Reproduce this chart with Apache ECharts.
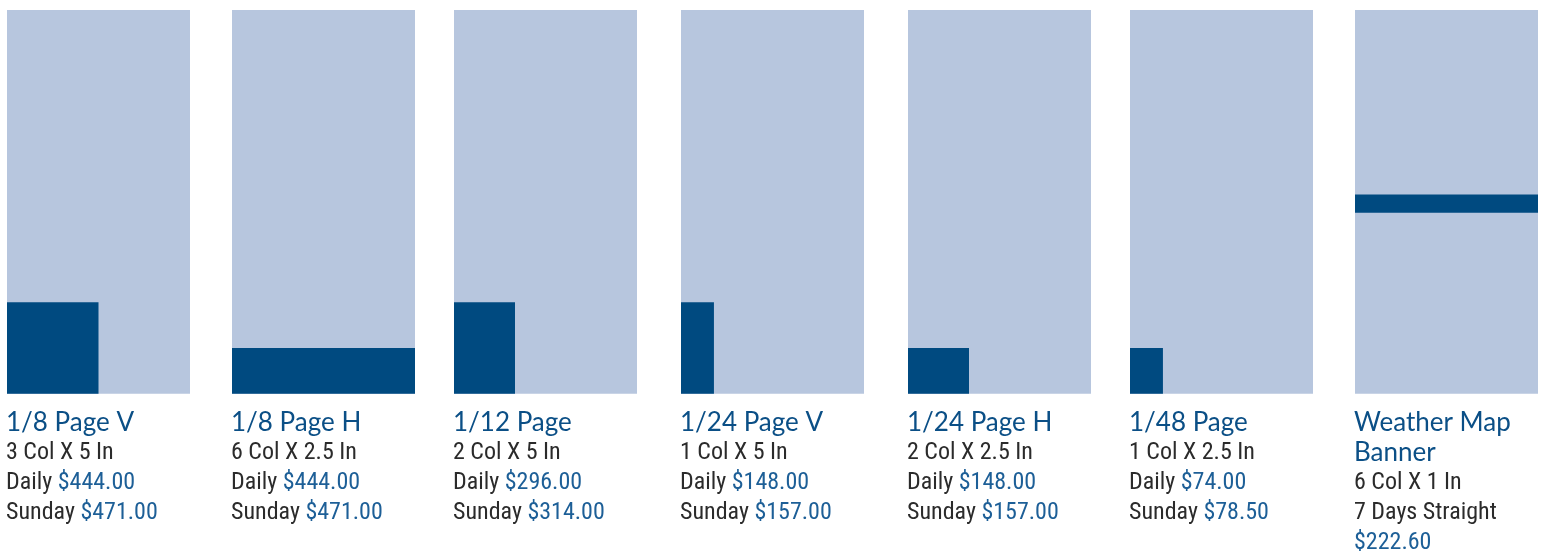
<!DOCTYPE html>
<html>
<head>
<meta charset="utf-8">
<script src="https://cdn.jsdelivr.net/npm/echarts@6/dist/echarts.min.js"></script>
<style>
  html, body { margin: 0; padding: 0; background: #fff; }
  #chart { width: 1546px; height: 554px; }
</style>
</head>
<body>
<div id="chart"></div>
<script>
// ad sizes on a 6 column x 21 inch page
var adNames = ['1/8 Page V', '1/8 Page H', '1/12 Page', '1/24 Page V', '1/24 Page H', '1/48 Page', 'Weather Map\nBanner'];
var adCols = [3, 6, 2, 1, 2, 1, 6];
// drawn width in column units (a single column is a bit wider than 1/6 of the page)
var adWidth = [3, 6, 2, 1.08, 2, 1.08, 6];
var adInches = [5, 2.5, 5, 5, 2.5, 2.5, 1];
var adBottom = [0, 0, 0, 0, 0, 0, 9.9];
var dailyPrice = ['$444.00', '$444.00', '$296.00', '$148.00', '$148.00', '$74.00', null];
var sundayPrice = ['$471.00', '$471.00', '$314.00', '$157.00', '$157.00', '$78.50', null];
var weekPrice = [null, null, null, null, null, null, '$222.60'];
var pageCols = 6;
var pageInches = 21;

var lefts = [7, 232, 454, 681, 908, 1130, 1355];
var panelW = 183;
var LIGHT = '#b7c6de';
var DARK = '#004a80';

var chart = echarts.init(document.getElementById('chart'));

var grids = [], xAxes = [], yAxes = [], series = [], titles = [];

function renderRect(params, api) {
  var p0 = api.coord([api.value(0), api.value(2)]);
  var p1 = api.coord([api.value(1), api.value(3)]);
  return {
    type: 'rect',
    shape: { x: p0[0], y: p1[1], width: p1[0] - p0[0], height: p0[1] - p1[1] },
    style: { fill: api.value(4) === 1 ? DARK : LIGHT }
  };
}

adNames.forEach(function (name, i) {
  grids.push({ left: lefts[i], top: 10, width: panelW, height: 383.7 });
  xAxes.push({ gridIndex: i, type: 'value', min: 0, max: pageCols, show: false });
  yAxes.push({ gridIndex: i, type: 'value', min: 0, max: pageInches, show: false });
  series.push({
    type: 'custom',
    xAxisIndex: i,
    yAxisIndex: i,
    silent: true,
    renderItem: renderRect,
    data: [
      [0, pageCols, 0, pageInches, 0],
      [0, adWidth[i], adBottom[i], adBottom[i] + adInches[i], 1]
    ]
  });

  var lines = name.split('\n').map(function (s) { return '{h|' + s + '}'; });
  lines.push('{g|' + adCols[i] + ' Col X ' + adInches[i] + ' In}');
  if (dailyPrice[i]) {
    lines.push('{g|Daily }{p|' + dailyPrice[i] + '}');
    lines.push('{g|Sunday }{p|' + sundayPrice[i] + '}');
  } else {
    lines.push('{g|7 Days Straight}');
    lines.push('{p|' + weekPrice[i] + '}');
  }
  titles.push({
    left: lefts[i] - 1,
    top: 408,
    padding: 0,
    text: lines.join('\n'),
    textStyle: {
      fontWeight: 'normal',
      rich: {
        h: { fontFamily: 'Lato', fontWeight: 'normal', fontSize: 26, color: '#0b4f86', lineHeight: 30 },
        // condensed face of Roboto
        g: { fontFamily: 'Roboto', fontStyle: 'condensed', fontWeight: 'normal', fontSize: 24, color: '#2b2b2b', lineHeight: 30 },
        p: { fontFamily: 'Roboto', fontStyle: 'condensed', fontWeight: 'normal', fontSize: 24, color: '#1d5f97', lineHeight: 30 }
      }
    }
  });
});

chart.setOption({
  animation: false,
  title: titles,
  grid: grids,
  xAxis: xAxes,
  yAxis: yAxes,
  series: series
});
</script>
</body>
</html>
